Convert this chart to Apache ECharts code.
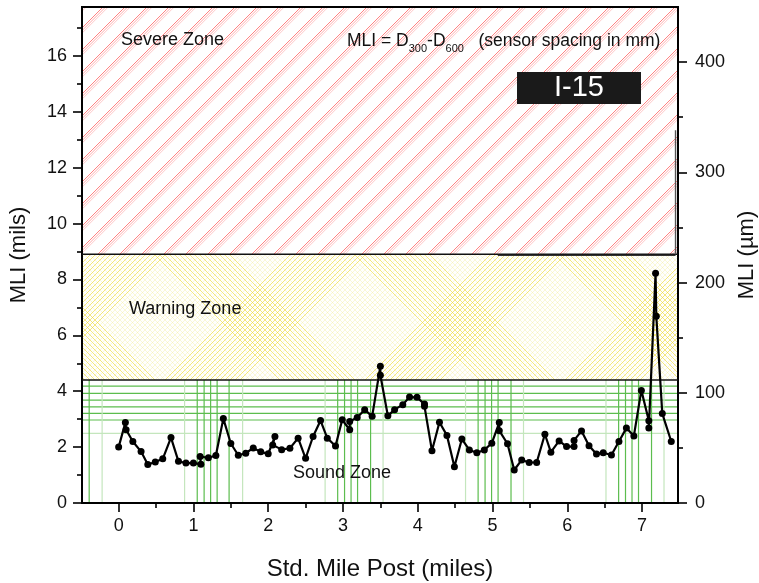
<!DOCTYPE html>
<html>
<head>
<meta charset="utf-8">
<script src="https://cdn.jsdelivr.net/npm/echarts@6/dist/echarts.min.js"></script>
<style>
  html, body { margin: 0; padding: 0; background: #fff; }
  #chart { width: 759px; height: 583px; }
</style>
</head>
<body>
<div id="chart"></div>
<script>
// MLI survey along I-15: standard mile post (miles) and MLI (mils)
const milePost = [0.00, 0.09, 0.10, 0.19, 0.30, 0.39, 0.49, 0.59, 0.70, 0.80, 0.90, 1.00, 1.10, 1.09, 1.20, 1.30, 1.40, 1.50, 1.60, 1.70,
  1.80, 1.90, 2.00, 2.09, 2.06, 2.18, 2.29, 2.40, 2.50, 2.60, 2.70, 2.79, 2.90, 2.99, 3.09, 3.09, 3.19, 3.29, 3.39, 3.50,
  3.50, 3.60, 3.69, 3.80, 3.89, 3.99, 4.09, 4.09, 4.19, 4.29, 4.39, 4.49, 4.59, 4.69, 4.79, 4.89, 4.99, 5.09, 5.09, 5.20,
  5.29, 5.39, 5.49, 5.59, 5.70, 5.78, 5.89, 5.99, 6.09, 6.09, 6.19, 6.29, 6.39, 6.48, 6.59, 6.69, 6.79, 6.89, 6.99, 7.09,
  7.09, 7.18, 7.19, 7.27, 7.39];
const mliMils = [2.00, 2.88, 2.62, 2.20, 1.84, 1.38, 1.47, 1.58, 2.34, 1.49, 1.43, 1.43, 1.39, 1.66, 1.62, 1.70, 3.02, 2.13, 1.71, 1.78,
  1.97, 1.83, 1.76, 2.38, 2.08, 1.91, 1.96, 2.32, 1.60, 2.38, 2.95, 2.32, 2.04, 2.98, 2.62, 2.92, 3.06, 3.34, 3.10, 4.89,
  4.57, 3.12, 3.34, 3.52, 3.79, 3.78, 3.54, 3.46, 1.87, 2.89, 2.42, 1.30, 2.29, 1.90, 1.80, 1.90, 2.14, 2.88, 2.59, 2.12,
  1.18, 1.54, 1.45, 1.45, 2.46, 1.82, 2.22, 2.02, 2.02, 2.24, 2.58, 2.05, 1.75, 1.80, 1.72, 2.20, 2.68, 2.40, 4.03, 2.94,
  2.68, 8.22, 6.68, 3.20, 2.20];

// Axis extents and ticks
const X_MIN = -0.49, X_MAX = 7.48;
const Y_MAX = 17.75;          // mils
const Y_MAX_UM = 450;         // micrometres
const xTicks = [0, 1, 2, 3, 4, 5, 6, 7];
const xMinorTicks = [0.5, 1.5, 2.5, 3.5, 4.5, 5.5, 6.5];
const yTicks = [0, 2, 4, 6, 8, 10, 12, 14, 16];
const yMinorTicks = [1, 3, 5, 7, 9, 11, 13, 15, 17];
const umTicks = [0, 100, 200, 300, 400];
const umMinorTicks = [50, 150, 250, 350];

// Condition zone limits (mils)
const soundLimit = 4.4;
const warningLimit = 8.9;

// Grid lines of the sound-zone fill (miles / mils)
const soundVLines = [-0.394, 1.051, 1.143, 1.230, 1.317, 1.477, 2.929, 3.021, 3.108, 3.195, 3.369,
  4.807, 4.900, 4.987, 5.074, 5.247, 6.686, 6.778, 6.865, 6.952, 7.126];
const soundVLinesLight = [-0.221, 0.882, 1.658, 2.761, 3.536, 4.639, 5.414, 6.517, 7.293];
const soundHLines = [4.18, 3.92, 3.68, 3.44, 3.21, 2.97];
const soundHLinesLight = [2.49];

const FONT = '"Liberation Sans", Arial, Helvetica, sans-serif';

// Red single-direction hatch for the severe zone (opaque tile)
function severePattern() {
  const S = 22;
  const c = document.createElement('canvas');
  c.width = S; c.height = S;
  const g = c.getContext('2d');
  g.fillStyle = '#ffffff';
  g.fillRect(0, 0, S, S);
  const strokes = [
    [0, '#ff6262', 0.8],
    [2.6, '#ff9494', 0.8],
    [5.2, '#ffbcbc', 0.8]
  ];
  strokes.forEach(([d, col, w]) => {
    g.strokeStyle = col; g.lineWidth = w;
    for (let k = -1; k <= 1; k++) {
      g.beginPath();
      g.moveTo(k * S + d, S);
      g.lineTo(k * S + d + S, 0);
      g.stroke();
    }
  });
  return c;
}

// Yellow cross hatch with alternating dense bands for the warning zone (opaque tile)
function warningPattern() {
  const P = 200, step = 5, half = 38;
  const cBack = 137, cFwd = 183;
  const c = document.createElement('canvas');
  c.width = P; c.height = P;
  const g = c.getContext('2d');
  g.fillStyle = '#ffffff';
  g.fillRect(0, 0, P, P);
  const inBand = (v, center) => {
    let d = ((v - center) % P + P) % P;
    if (d > P / 2) d = P - d;
    return d <= half;
  };
  const strongCol = 'rgba(238,218,50,0.7)';
  const weakCol = 'rgba(242,234,140,0.4)';
  for (let v = -P; v <= P; v += step) {          // "\" lines: x - y = v
    g.strokeStyle = inBand(v, cBack) ? strongCol : weakCol;
    g.lineWidth = 0.9;
    g.beginPath(); g.moveTo(v, 0); g.lineTo(v + P, P); g.stroke();
  }
  for (let v = 0; v <= 2 * P; v += step) {       // "/" lines: x + y = v
    g.strokeStyle = inBand(v, cFwd) ? strongCol : weakCol;
    g.lineWidth = 0.9;
    g.beginPath(); g.moveTo(v, 0); g.lineTo(v - P, P); g.stroke();
  }
  return c;
}

const zoneFills = [
  { image: warningPattern(), repeat: 'repeat' },
  { image: severePattern(), repeat: 'repeat' }
];
const zoneBands = [[soundLimit, warningLimit], [warningLimit, Y_MAX]];

function bandRenderer(params, api) {
  const p0 = api.coord([X_MIN, api.value(1)]);
  const p1 = api.coord([X_MAX, api.value(0)]);
  return {
    type: 'rect',
    shape: { x: p0[0], y: p0[1], width: p1[0] - p0[0], height: p1[1] - p0[1] },
    style: { fill: zoneFills[params.dataIndex], stroke: null, opacity: 1 }
  };
}

function vLineRenderer(color, width) {
  return (params, api) => {
    const a = api.coord([api.value(0), 0]);
    const b = api.coord([api.value(0), soundLimit]);
    return { type: 'line', shape: { x1: a[0], y1: a[1], x2: b[0], y2: b[1] },
      style: { stroke: color, lineWidth: width } };
  };
}
function hLineRenderer(color, width, x0, x1) {
  return (params, api) => {
    const a = api.coord([x0 == null ? X_MIN : x0, api.value(0)]);
    const b = api.coord([x1 == null ? X_MAX : x1, api.value(0)]);
    return { type: 'line', shape: { x1: a[0], y1: a[1], x2: b[0], y2: b[1] },
      style: { stroke: color, lineWidth: width } };
  };
}

function decoSeries(data, renderItem, z) {
  return {
    type: 'custom', coordinateSystem: 'cartesian2d', xAxisIndex: 0, yAxisIndex: 0,
    data: data, renderItem: renderItem, silent: true, clip: true, z: z,
    encode: { x: -1, y: -1 }
  };
}

const labelStyle = { fontFamily: FONT, fontSize: 18, color: '#111' };
const nameStyle = { fontFamily: FONT, fontSize: 22, color: '#111' };
const tickLine = { color: '#000', width: 1.6 };

const chart = echarts.init(document.getElementById('chart'), null, { renderer: 'canvas' });

chart.setOption({
  animation: false,
  backgroundColor: '#fff',
  grid: {
    left: 82, right: 81, top: 7, bottom: 80,
    outerBoundsMode: 'none', containLabel: false,
    show: true, borderColor: '#000', borderWidth: 2, backgroundColor: 'transparent', z: 3
  },
  xAxis: [
    {
      type: 'value', min: X_MIN, max: X_MAX, position: 'bottom',
      name: 'Std. Mile Post (miles)', nameLocation: 'middle', nameGap: 54,
      nameTextStyle: Object.assign({}, nameStyle, { fontSize: 24 }),
      axisLine: { show: true, onZero: false, lineStyle: { color: '#000', width: 2 } },
      axisTick: { show: true, customValues: xTicks, length: 9, lineStyle: tickLine },
      axisLabel: Object.assign({ customValues: xTicks, margin: 14 }, labelStyle),
      splitLine: { show: false }
    },
    {
      type: 'value', min: X_MIN, max: X_MAX, position: 'bottom',
      axisLine: { show: false, onZero: false },
      axisTick: { show: true, customValues: xMinorTicks, length: 5, lineStyle: tickLine },
      axisLabel: { show: false },
      splitLine: { show: false }
    }
  ],
  yAxis: [
    {
      type: 'value', min: 0, max: Y_MAX, position: 'left',
      name: 'MLI (mils)', nameLocation: 'middle', nameGap: 52, nameTextStyle: nameStyle,
      axisLine: { show: true, onZero: false, lineStyle: { color: '#000', width: 2 } },
      axisTick: { show: true, customValues: yTicks, length: 9, lineStyle: tickLine },
      axisLabel: Object.assign({ customValues: yTicks, margin: 15 }, labelStyle),
      splitLine: { show: false }
    },
    {
      type: 'value', min: 0, max: Y_MAX_UM, position: 'right',
      name: 'MLI (\u00b5m)', nameLocation: 'middle', nameGap: 50, nameRotate: 90, nameTextStyle: nameStyle,
      axisLine: { show: true, onZero: false, lineStyle: { color: '#000', width: 2 } },
      axisTick: { show: true, customValues: umTicks, length: 9, lineStyle: tickLine },
      axisLabel: Object.assign({ customValues: umTicks, margin: 17 }, labelStyle),
      splitLine: { show: false }
    },
    {
      type: 'value', min: 0, max: Y_MAX, position: 'left',
      axisLine: { show: false, onZero: false },
      axisTick: { show: true, customValues: yMinorTicks, length: 5, lineStyle: tickLine },
      axisLabel: { show: false },
      splitLine: { show: false }
    },
    {
      type: 'value', min: 0, max: Y_MAX_UM, position: 'right',
      axisLine: { show: false, onZero: false },
      axisTick: { show: true, customValues: umMinorTicks, length: 5, lineStyle: tickLine },
      axisLabel: { show: false },
      splitLine: { show: false }
    }
  ],
  series: [
    decoSeries(zoneBands, bandRenderer, 1),
    decoSeries(soundHLinesLight.map(v => [v]), hLineRenderer('#c4e6bd', 1.2), 2),
    decoSeries(soundHLines.map(v => [v]), hLineRenderer('#5cbd4e', 1.2), 2),
    decoSeries(soundVLinesLight.map(v => [v]), vLineRenderer('#c4e6bd', 1.2), 2),
    decoSeries(soundVLines.map(v => [v]), vLineRenderer('#5cbd4e', 1.2), 2),
    // zone boundaries
    decoSeries([[soundLimit], [warningLimit]], hLineRenderer('#111', 1.4), 3),
    decoSeries([[warningLimit - 0.04]], hLineRenderer('#333', 1.2, 5.07, 7.447), 3),
    decoSeries([[0]], (params, api) => {
      const a = api.coord([7.447, warningLimit]);
      const b = api.coord([7.447, 13.34]);
      return { type: 'line', shape: { x1: a[0], y1: a[1], x2: b[0], y2: b[1] },
        style: { stroke: '#555', lineWidth: 1.4 } };
    }, 3),
    {
      name: 'MLI',
      type: 'line',
      xAxisIndex: 0, yAxisIndex: 0,
      data: milePost.map((m, i) => [m, mliMils[i]]),
      symbol: 'circle', symbolSize: 7,
      itemStyle: { color: '#000' },
      lineStyle: { color: '#000', width: 2.2 },
      z: 10
    }
  ],
  graphic: [
    { type: 'text', left: 121, top: 31, z: 20,
      style: { text: 'Severe Zone', font: '18px ' + FONT, fill: '#111' } },
    { type: 'text', x: 347, y: 29, z: 20,
      style: {
        text: 'MLI = D{s|300}-D{s|600}   (sensor spacing in mm)',
        font: '17.5px ' + FONT, fill: '#111',
        rich: {
          s: { fontSize: 11, fontFamily: FONT, fill: '#111', lineHeight: 11, verticalAlign: 'bottom' }
        },
        lineHeight: 25
      } },
    { type: 'rect', shape: { x: 517, y: 72, width: 124, height: 32 }, style: { fill: '#1a1a1a' }, z: 20 },
    { type: 'text', x: 579, y: 88, z: 21,
      style: { text: 'I-15', font: '29px ' + FONT, fill: '#fff', align: 'center', verticalAlign: 'middle' } },
    { type: 'text', left: 129, top: 300, z: 20,
      style: { text: 'Warning Zone', font: '18px ' + FONT, fill: '#111' } },
    { type: 'text', left: 293, top: 464, z: 20,
      style: { text: 'Sound Zone', font: '18px ' + FONT, fill: '#111' } }
  ]
});
</script>
</body>
</html>
